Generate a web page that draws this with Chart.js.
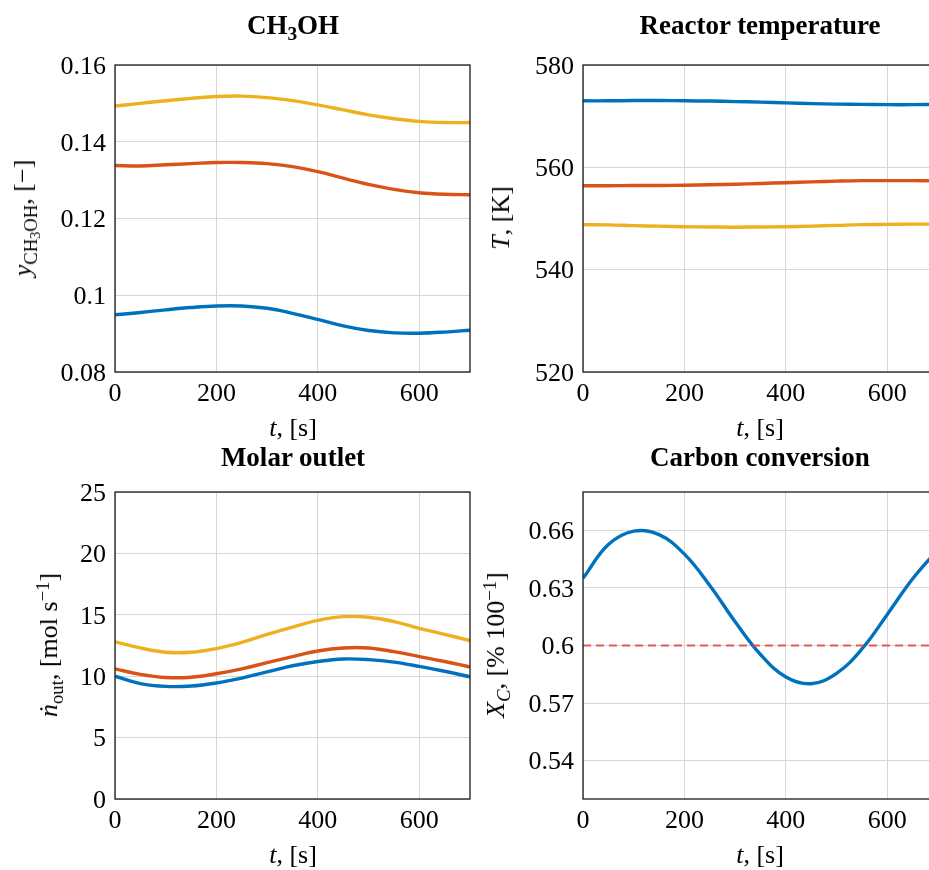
<!DOCTYPE html>
<html>
<head>
<meta charset="utf-8">
<script src="https://cdn.jsdelivr.net/npm/chart.js@4.4.1/dist/chart.umd.min.js"></script>
<style>
  html, body { margin: 0; padding: 0; background: #fff; overflow: hidden; }
  body { width: 929px; height: 870px; position: relative; font-family: "Liberation Serif", serif; color: #000; }
  .panel { position: absolute; width: 480px; height: 435px; }
  .title { position: absolute; transform: translateX(-50%); font-weight: bold; font-size: 27px; line-height: 1; white-space: nowrap; }
  .xlabel { position: absolute; transform: translateX(-50%); font-size: 26px; line-height: 1; white-space: nowrap; }
  .ylabel { position: absolute; transform: translate(-50%, -50%) rotate(-90deg); font-size: 26px; line-height: 1; white-space: nowrap; }
  .sub { position: relative; top: 0.3em; font-size: 0.72em; }
  .sub .sub { top: 0.25em; font-size: 0.75em; }
  .sup { position: relative; top: -0.45em; font-size: 0.72em; }
</style>
</head>
<body>
<div class="panel" style="left:0;top:0"><canvas id="methanolChart" width="480" height="435"></canvas></div>
<div class="panel" style="left:468px;top:0"><canvas id="tempChart" width="480" height="435"></canvas></div>
<div class="panel" style="left:0;top:427px"><canvas id="molarChart" width="480" height="435"></canvas></div>
<div class="panel" style="left:468px;top:427px"><canvas id="conversionChart" width="480" height="435"></canvas></div>

<div class="title" style="left:293px;top:12px">CH<span class="sub">3</span>OH</div>
<div class="title" style="left:760px;top:12px">Reactor temperature</div>
<div class="title" style="left:293px;top:444px">Molar outlet</div>
<div class="title" style="left:760px;top:444px">Carbon conversion</div>

<div class="xlabel" style="left:293px;top:415px"><i>t</i>, [s]</div>
<div class="xlabel" style="left:760px;top:415px"><i>t</i>, [s]</div>
<div class="xlabel" style="left:293px;top:842px"><i>t</i>, [s]</div>
<div class="xlabel" style="left:760px;top:842px"><i>t</i>, [s]</div>

<div class="ylabel" style="left:23px;top:218px"><i>y</i><span class="sub">CH<span class="sub">3</span>OH</span>, [−]</div>
<div class="ylabel" style="left:501px;top:218px"><i>T</i>, [K]</div>
<div class="ylabel" style="left:49px;top:645px"><i>ṅ</i><span class="sub">out</span>, [mol s<span class="sup">−1</span>]</div>
<div class="ylabel" style="left:496px;top:645px"><i>X</i><span class="sub"><i>C</i></span>, [% 100<span class="sup">−1</span>]</div>

<script>
// ── Data ────────────────────────────────────────────────
const timeS = [0, 50, 100, 150, 200, 250, 300, 350, 400, 450, 500, 550, 600, 650, 700];

const methanolBlue   = [0.0949, 0.0955, 0.0962, 0.0968, 0.0972, 0.0972, 0.0966, 0.0953, 0.0937, 0.0920, 0.0908, 0.0902, 0.0901, 0.0904, 0.0909];
const methanolOrange = [0.1338, 0.1337, 0.1340, 0.1343, 0.1346, 0.1346, 0.1343, 0.1335, 0.1322, 0.1305, 0.1289, 0.1276, 0.1267, 0.1263, 0.1262];
const methanolYellow = [0.1493, 0.1500, 0.1507, 0.1513, 0.1518, 0.1519, 0.1515, 0.1507, 0.1496, 0.1483, 0.1470, 0.1460, 0.1453, 0.1450, 0.1450];

const tempBlue   = [573.0, 573.0, 573.05, 573.05, 573.0, 572.95, 572.85, 572.75, 572.6, 572.45, 572.35, 572.3, 572.25, 572.25, 572.3];
const tempOrange = [556.4, 556.4, 556.45, 556.45, 556.5, 556.6, 556.7, 556.85, 557.0, 557.15, 557.3, 557.4, 557.4, 557.4, 557.35];
const tempYellow = [548.8, 548.75, 548.6, 548.5, 548.4, 548.35, 548.3, 548.35, 548.4, 548.5, 548.65, 548.8, 548.85, 548.9, 548.9];

const molarBlue   = [10.0, 9.4, 9.17, 9.2, 9.45, 9.85, 10.35, 10.85, 11.2, 11.4, 11.35, 11.15, 10.8, 10.4, 9.95];
const molarOrange = [10.6, 10.15, 9.9, 9.92, 10.2, 10.6, 11.1, 11.6, 12.05, 12.3, 12.3, 12.0, 11.6, 11.2, 10.75];
const molarYellow = [12.8, 12.3, 11.95, 11.95, 12.25, 12.75, 13.4, 14.0, 14.55, 14.85, 14.8, 14.45, 13.9, 13.4, 12.9];

const conversion = [0.635, 0.6526, 0.6596, 0.6578, 0.6476, 0.6313, 0.6124, 0.5953, 0.5836, 0.5801, 0.5855, 0.5982, 0.6162, 0.6348, 0.6501];
const conversionTarget = 0.6;

// ── Style ───────────────────────────────────────────────
const FONT = '"Liberation Serif", serif';
const GRID = '#d6d6d6';
const BLUE = '#0072BD', ORANGE = '#D95319', YELLOW = '#EDB120';

const framePlugin = {
    id: 'frame',
    afterDraw(chart) {
        const { ctx, chartArea: a } = chart;
        ctx.save();
        ctx.strokeStyle = '#1a1a1a';
        ctx.lineWidth = 1.3;
        ctx.strokeRect(a.left, a.top, a.right - a.left, a.bottom - a.top);
        ctx.restore();
    }
};

function series(values, color) {
    return {
        data: timeS.map((t, i) => ({ x: t, y: values[i] })),
        borderColor: color,
        borderWidth: 3.4,
        pointRadius: 0,
        tension: 0.4,
        fill: false
    };
}

function makeChart(id, datasets, yMin, yMax, yStep) {
    const tickFont = { family: FONT, size: 26 };
    return new Chart(document.getElementById(id), {
        type: 'line',
        data: { datasets },
        plugins: [framePlugin],
        options: {
            responsive: false,
            animation: false,
            layout: { padding: { top: 65, right: 10, bottom: 23, left: 0 } },
            plugins: { legend: { display: false }, tooltip: { enabled: false } },
            scales: {
                x: {
                    type: 'linear', min: 0, max: 700,
                    afterFit: s => { s.height = 40; },
                    grid: { color: GRID, lineWidth: 1, drawTicks: false },
                    border: { display: false },
                    ticks: { stepSize: 200, includeBounds: false, padding: 7, color: '#000', font: tickFont, maxRotation: 0 }
                },
                y: {
                    type: 'linear', min: yMin, max: yMax,
                    afterFit: s => { s.width = 115; },
                    grid: { color: GRID, lineWidth: 1, drawTicks: false },
                    border: { display: false },
                    ticks: {
                        stepSize: yStep, includeBounds: false, padding: 9, labelOffset: 2, color: '#000', font: tickFont,
                        callback: v => String(+v.toFixed(4))
                    }
                }
            }
        }
    });
}

// ── Charts ──────────────────────────────────────────────
makeChart('methanolChart', [
    series(methanolBlue, BLUE), series(methanolOrange, ORANGE), series(methanolYellow, YELLOW)
], 0.08, 0.16, 0.02);

makeChart('tempChart', [
    series(tempBlue, BLUE), series(tempOrange, ORANGE), series(tempYellow, YELLOW)
], 520, 580, 20);

makeChart('molarChart', [
    series(molarBlue, BLUE), series(molarOrange, ORANGE), series(molarYellow, YELLOW)
], 0, 25, 5);

makeChart('conversionChart', [
    {
        data: [{ x: 0, y: conversionTarget }, { x: 700, y: conversionTarget }],
        borderColor: 'rgba(235, 60, 60, 0.85)',
        borderWidth: 1.8,
        borderDash: [8, 5],
        pointRadius: 0
    },
    series(conversion, BLUE)
], 0.52, 0.68, 0.03);
</script>
</body>
</html>
